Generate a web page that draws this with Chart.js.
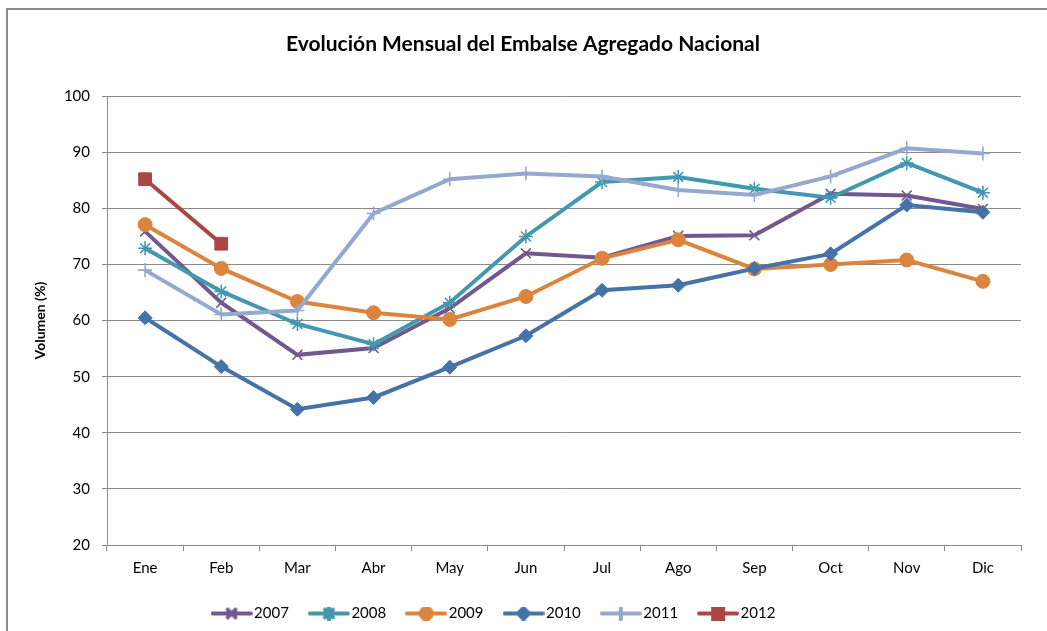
<!DOCTYPE html>
<html>
<head>
<meta charset="utf-8">
<script src="https://cdn.jsdelivr.net/npm/chart.js@4"></script>
<style>
  html, body { margin: 0; padding: 0; background: #fff; }
  canvas { display: block; }
</style>
</head>
<body>
<canvas id="chart" width="1047" height="631"></canvas>
<script>
const months = ['Ene', 'Feb', 'Mar', 'Abr', 'May', 'Jun', 'Jul', 'Ago', 'Sep', 'Oct', 'Nov', 'Dic'];
const years = ['2007', '2008', '2009', '2010', '2011', '2012'];

const v2007 = [75.9, 63.2, 53.9, 55.1, 62.2, 72.0, 71.2, 75.1, 75.2, 82.6, 82.3, 79.9];
const v2008 = [72.9, 65.2, 59.4, 55.8, 63.2, 75.0, 84.7, 85.6, 83.5, 81.9, 88.1, 82.8];
const v2009 = [77.1, 69.3, 63.4, 61.4, 60.2, 64.3, 71.1, 74.4, 69.2, 70.0, 70.8, 67.0];
const v2010 = [60.5, 51.8, 44.2, 46.3, 51.7, 57.3, 65.4, 66.3, 69.3, 71.9, 80.6, 79.3];
const v2011 = [69.0, 61.1, 61.8, 79.1, 85.2, 86.2, 85.7, 83.3, 82.4, 85.7, 90.7, 89.8];
const v2012 = [85.2, 73.7];

const colors = ['#71588F', '#4198AF', '#DB843D', '#4572A7', '#93A9CF', '#AA4643'];
const markers = ['crossRot', 'star', 'circle', 'rectRot', 'cross', 'rect'];
const radii = [7, 7, 7, 7, 7, 9];
const series = [v2007, v2008, v2009, v2010, v2011, v2012];

const FONT = 'Lato, "DejaVu Sans", sans-serif';

// small line+marker swatch for the legend, like the spreadsheet legend
function legendSwatch(i) {
  const c = document.createElement('canvas');
  c.width = 42; c.height = 14;
  const ctx = c.getContext('2d');
  ctx.strokeStyle = colors[i];
  ctx.lineWidth = 4;
  ctx.lineCap = 'round';
  ctx.beginPath();
  ctx.moveTo(2, 7); ctx.lineTo(40, 7);
  ctx.stroke();
  ctx.fillStyle = colors[i];
  ctx.strokeStyle = colors[i];
  const filled = ['circle', 'rectRot', 'rect'].includes(markers[i]);
  Chart.helpers.drawPoint(ctx, {
    pointStyle: markers[i],
    radius: markers[i] === 'rect' ? 7 : 5.5,
    borderWidth: filled ? 1 : 1.5,
    rotation: 0
  }, 21, 7);
  return c;
}

const frame = {
  id: 'frame',
  beforeDraw(chart) {
    const ctx = chart.ctx;
    ctx.save();
    ctx.strokeStyle = '#8c8c8c';
    ctx.lineWidth = 2;
    ctx.beginPath();
    ctx.moveTo(7, 640);
    ctx.lineTo(7, 9);
    ctx.lineTo(1050, 9);
    ctx.stroke();
    ctx.restore();
  },
  // the original legend sits a little left of centre
  afterLayout(chart) {
    chart.legend.left -= 27;
    chart.legend.right -= 27;
  }
};

const datasets = series.map((data, i) => {
  const filled = ['circle', 'rectRot', 'rect'].includes(markers[i]);
  return {
    label: years[i],
    data: data,
    borderColor: colors[i],
    backgroundColor: colors[i],
    borderWidth: 4,
    tension: 0,
    pointStyle: markers[i],
    pointRadius: radii[i],
    pointHoverRadius: radii[i],
    pointBorderWidth: filled ? 1 : 1.6,
    pointBackgroundColor: colors[i],
    pointBorderColor: colors[i],
    order: series.length - i
  };
});

new Chart(document.getElementById('chart'), {
  type: 'line',
  data: { labels: months, datasets: datasets },
  plugins: [frame],
  options: {
    responsive: false,
    animation: false,
    layout: { padding: { left: 25, right: 26, top: 0, bottom: 0 } },
    plugins: {
      title: {
        display: true,
        text: 'Evolución Mensual del Embalse Agregado Nacional',
        color: '#000',
        font: { family: FONT, size: 21, weight: 'bold' },
        padding: { top: 32, bottom: 39 }
      },
      legend: {
        position: 'bottom',
        labels: {
          color: '#000',
          font: { family: FONT, size: 15 },
          usePointStyle: true,
          pointStyleWidth: 30,
          padding: 25,
          generateLabels(chart) {
            return chart.data.datasets.map((ds, i) => ({
              text: ds.label,
              datasetIndex: i,
              pointStyle: legendSwatch(i),
              fillStyle: colors[i],
              strokeStyle: colors[i],
              lineWidth: 0,
              hidden: false,
              fontColor: '#000'
            }));
          }
        }
      },
      tooltip: { enabled: false }
    },
    scales: {
      x: {
        offset: true,
        afterFit(scale) { scale.height -= 4; },
        grid: {
          display: true,
          offset: true,
          drawOnChartArea: false,
          drawTicks: true,
          tickLength: 6,
          color: '#8a8a8a'
        },
        border: { color: '#8a8a8a', width: 1 },
        ticks: {
          color: '#000',
          font: { family: FONT, size: 15 },
          padding: 8,
          maxRotation: 0
        }
      },
      y: {
        min: 20,
        max: 100,
        afterFit(scale) { scale.width = 82; },
        grid: {
          color: '#8a8a8a',
          lineWidth: 1,
          drawTicks: true,
          tickLength: 5
        },
        border: { color: '#8a8a8a', width: 1 },
        ticks: {
          stepSize: 10,
          color: '#000',
          font: { family: FONT, size: 15 },
          padding: 12
        },
        title: {
          display: true,
          text: 'Volumen (%)',
          color: '#000',
          font: { family: FONT, size: 14, weight: 'bold' },
          padding: { top: 7, bottom: 0 }
        }
      }
    }
  }
});
</script>
</body>
</html>
